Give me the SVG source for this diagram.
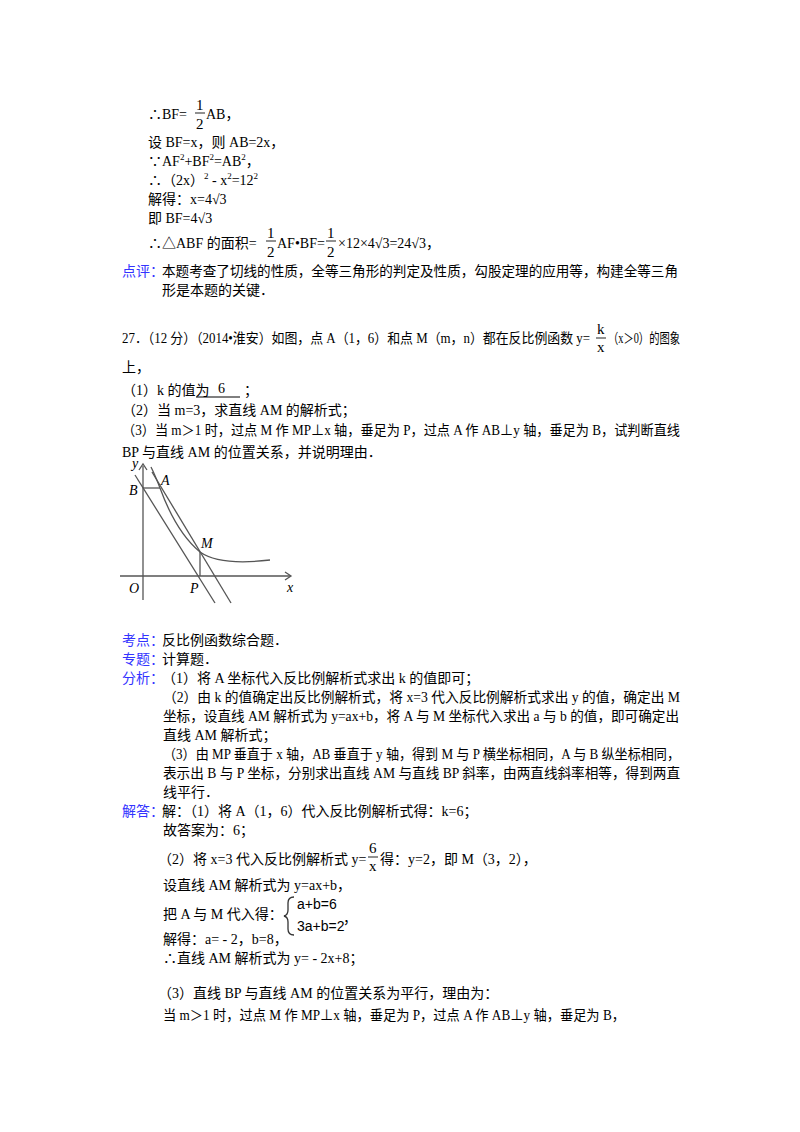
<svg xmlns="http://www.w3.org/2000/svg" width="800" height="1132" viewBox="0 0 800 1132">
<style>
text{font-family:"Liberation Serif","Noto Sans CJK SC",serif;font-size:14px;fill:#000}
.b{fill:#3333ff}
.s{font-size:9px}
.f{font-size:15px}
.i{font-style:italic}
line,path{stroke:#555;fill:none;stroke-width:1.3}
</style>
<rect width="800" height="1132" fill="#fff"/>
<text x="148" y="119">∴BF=</text><text x="196" y="110" class="f">1</text><line x1="195" y1="113" x2="205" y2="113"/><text x="196" y="129" class="f">2</text><text x="206" y="119">AB，</text>
<text x="148" y="147">设 BF=x，则 AB=2x，</text>
<text x="148" y="166">∵AF<tspan class="s" dy="-6">2</tspan><tspan dy="6">+BF</tspan><tspan class="s" dy="-6">2</tspan><tspan dy="6">=AB</tspan><tspan class="s" dy="-6">2</tspan><tspan dy="6">，</tspan></text>
<text x="148" y="185">∴（2x）<tspan class="s" dy="-6">2</tspan><tspan dy="6"> - x</tspan><tspan class="s" dy="-6">2</tspan><tspan dy="6">=12</tspan><tspan class="s" dy="-6">2</tspan></text>
<text x="148" y="204">解得：x=4√3</text>
<text x="148" y="223">即 BF=4√3</text>
<text x="148" y="248">∴△ABF 的面积=</text><text x="267" y="238" class="f">1</text><line x1="266" y1="241" x2="276" y2="241"/><text x="267" y="257" class="f">2</text><text x="277" y="248">AF•BF=</text><text x="327" y="238" class="f">1</text><line x1="326" y1="241" x2="336" y2="241"/><text x="327" y="257" class="f">2</text><text x="338" y="248">×12×4√3=24√3，</text>
<text x="122" y="276" class="b">点评：</text><text x="162" y="276" textLength="516" lengthAdjust="spacingAndGlyphs">本题考查了切线的性质，全等三角形的判定及性质，勾股定理的应用等，构建全等三角</text>
<text x="162" y="295">形是本题的关键．</text>
<text x="122" y="343" textLength="468" lengthAdjust="spacingAndGlyphs">27．（12 分）（2014•淮安）如图，点 A（1，6）和点 M（m，n）都在反比例函数 y=</text><text x="597" y="334" class="f">k</text><line x1="596" y1="338" x2="606" y2="338"/><text x="597" y="352" class="f">x</text><text x="608" y="343" textLength="72" lengthAdjust="spacingAndGlyphs">（x＞0）的图象</text>
<text x="122" y="372">上，</text>
<text x="122" y="395">（1）k 的值为</text><text x="218" y="393">6</text><line x1="196" y1="397" x2="240" y2="397" style="stroke:#000;stroke-width:1"/><text x="244" y="395">；</text>
<text x="122" y="415">（2）当 m=3，求直线 AM 的解析式；</text>
<text x="122" y="435" textLength="558" lengthAdjust="spacingAndGlyphs">（3）当 m＞1 时，过点 M 作 MP⊥x 轴，垂足为 P，过点 A 作 AB⊥y 轴，垂足为 B，试判断直线</text>
<text x="122" y="457">BP 与直线 AM 的位置关系，并说明理由．</text>
<g id="graph">
<line x1="143" y1="600" x2="143" y2="466"/><path d="M139,470 L143,464 L147,470"/>
<line x1="120" y1="576" x2="290" y2="576"/><path d="M285,572 L291,576 L285,580"/>
<line x1="143" y1="488" x2="160" y2="488"/>
<line x1="200" y1="552" x2="200" y2="576"/>
<line x1="135" y1="475" x2="215" y2="603"/>
<line x1="152" y1="472" x2="231" y2="603"/>
<path d="M151,467 Q155,475 160,488 Q176,532 200,552 Q220,566 270,560"/>
<text x="132" y="468" class="i">y</text><text x="129" y="495" class="i">B</text><text x="161" y="485" class="i">A</text><text x="201" y="548" class="i">M</text><text x="190" y="593" class="i">P</text><text x="129" y="593" class="i">O</text><text x="287" y="592" class="i">x</text>
</g>
<text x="122" y="645" class="b">考点：</text><text x="162" y="645">反比例函数综合题．</text>
<text x="122" y="664" class="b">专题：</text><text x="162" y="664">计算题．</text>
<text x="122" y="683" class="b">分析：</text><text x="162" y="683">（1）将 A 坐标代入反比例解析式求出 k 的值即可；</text>
<text x="163" y="702" textLength="517" lengthAdjust="spacingAndGlyphs">（2）由 k 的值确定出反比例解析式，将 x=3 代入反比例解析式求出 y 的值，确定出 M</text>
<text x="163" y="721" textLength="516" lengthAdjust="spacingAndGlyphs">坐标，设直线 AM 解析式为 y=ax+b，将 A 与 M 坐标代入求出 a 与 b 的值，即可确定出</text>
<text x="163" y="740">直线 AM 解析式；</text>
<text x="163" y="759" textLength="517" lengthAdjust="spacingAndGlyphs">（3）由 MP 垂直于 x 轴，AB 垂直于 y 轴，得到 M 与 P 横坐标相同，A 与 B 纵坐标相同，</text>
<text x="163" y="778" textLength="517" lengthAdjust="spacingAndGlyphs">表示出 B 与 P 坐标，分别求出直线 AM 与直线 BP 斜率，由两直线斜率相等，得到两直</text>
<text x="163" y="797">线平行．</text>
<text x="122" y="816" class="b">解答：</text><text x="162" y="816">解：（1）将 A（1，6）代入反比例解析式得：k=6；</text>
<text x="163" y="835">故答案为：6；</text>
<text x="158" y="864">（2）将 x=3 代入反比例解析式 y=</text><text x="369" y="853" class="f">6</text><line x1="368" y1="857" x2="378" y2="857"/><text x="369" y="871" class="f">x</text><text x="380" y="864">得：y=2，即 M（3，2），</text>
<text x="163" y="890">设直线 AM 解析式为 y=ax+b，</text>
<text x="163" y="919">把 A 与 M 代入得：</text>
<path d="M294,897 Q288,897 288,903 L288,910 Q288,915 284,916 Q288,917 288,922 L288,929 Q288,935 294,935" style="stroke:#333"/>
<text x="297" y="909" style="font-family:'Liberation Sans',sans-serif">a+b=6</text><text x="297" y="931" style="font-family:'Liberation Sans',sans-serif">3a+b=2</text><text x="343" y="923">，</text>
<text x="163" y="944">解得：a= - 2，b=8，</text>
<text x="163" y="963">∴直线 AM 解析式为 y= - 2x+8；</text>
<text x="158" y="998">（3）直线 BP 与直线 AM 的位置关系为平行，理由为：</text>
<text x="163" y="1020" textLength="462" lengthAdjust="spacingAndGlyphs">当 m＞1 时，过点 M 作 MP⊥x 轴，垂足为 P，过点 A 作 AB⊥y 轴，垂足为 B，</text>
</svg>
